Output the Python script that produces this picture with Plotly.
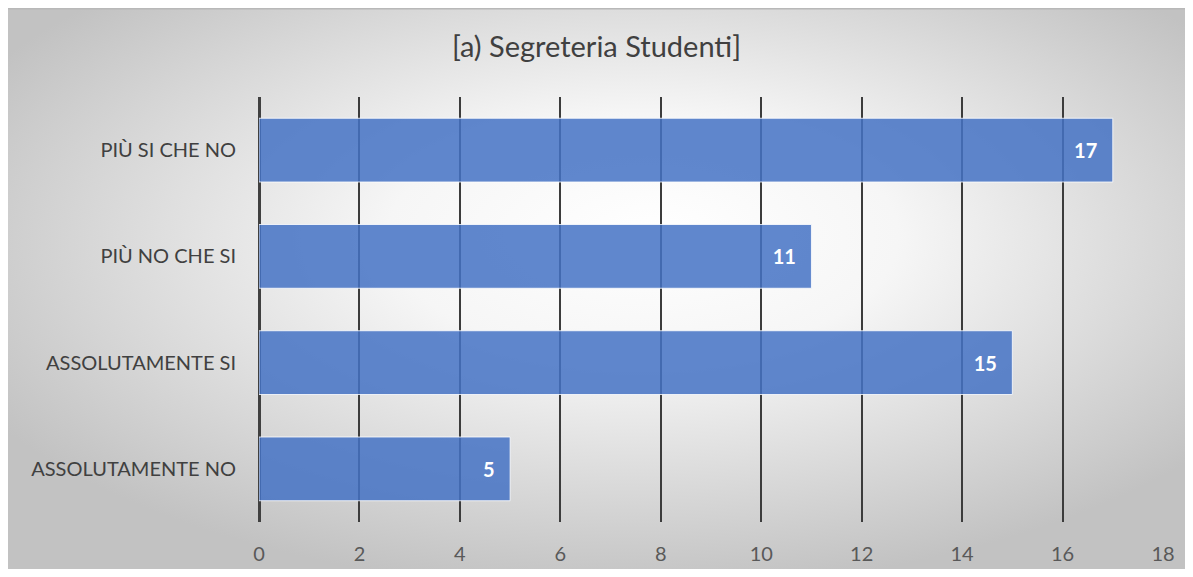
import base64
import plotly.graph_objects as go

categories = ["ASSOLUTAMENTE NO", "ASSOLUTAMENTE SI", "PIÙ NO CHE SI", "PIÙ SI CHE NO"]
values = [5, 15, 11, 17]
x_ticks = [0, 2, 4, 6, 8, 10, 12, 14, 16, 18]
title_text = "[a) Segreteria Studenti]"

# page body adds an 8px margin; figure occupies page pixels 8..1185 x 8..569
W, H = 1177, 561
ml, mr, mt, mb = 251, 22, 89, 47

svg = f'''<svg xmlns="http://www.w3.org/2000/svg" width="{W}" height="{H}" viewBox="0 0 {W} {H}" preserveAspectRatio="none">
<defs><radialGradient id="g" cx="52%" cy="42%" r="62%" fx="55%" fy="40%">
<stop offset="0" stop-color="#ffffff"/>
<stop offset="0.35" stop-color="#f6f6f6"/>
<stop offset="1" stop-color="#c2c2c2"/>
</radialGradient></defs>
<rect x="0" y="0" width="{W}" height="{H}" fill="url(#g)"/>
<rect x="0" y="0" width="{W}" height="1.5" fill="#b8b8b8"/>
</svg>'''
src = "data:image/svg+xml;base64," + base64.b64encode(svg.encode()).decode()

font_family = "Lato, Open Sans, sans-serif"

fig = go.Figure(go.Bar(
    y=categories, x=values, orientation="h",
    marker=dict(color="rgba(68,114,196,0.85)", line=dict(color="rgba(255,255,255,0.8)", width=1)),
    width=0.6,
    text=[str(v) + "\u2002\u2009" for v in values], textposition="inside", insidetextanchor="end",
    textfont=dict(color="white", size=20, family=font_family, weight="bold"),
    cliponaxis=False,
))

fig.update_layout(
    width=W, height=H, autosize=False,
    margin=dict(l=ml, r=mr, t=mt, b=mb, pad=0, autoexpand=False),
    paper_bgcolor="white", plot_bgcolor="rgba(0,0,0,0)",
    title=dict(text=title_text, x=0.5, xref="container", xanchor="center",
               y=1 - 39 / H, yref="container", yanchor="middle",
               font=dict(size=29, color="#404040", family=font_family)),
    font=dict(family=font_family, color="#595959"),
    showlegend=False,
    images=[dict(source=src, xref="paper", yref="paper",
                 x=-ml / (W - ml - mr), y=1 + mt / (H - mt - mb),
                 sizex=W / (W - ml - mr), sizey=H / (H - mt - mb),
                 xanchor="left", yanchor="top", sizing="stretch", layer="below")],
)
fig.update_xaxes(range=[0, 18], tickvals=x_ticks, showgrid=True, gridcolor="#3c3c3c", gridwidth=1.5,
                 zeroline=True, zerolinecolor="#404040", zerolinewidth=3, automargin=False,
                 tickfont=dict(size=20, color="#595959"), ticks="outside", ticklen=14,
                 tickcolor="rgba(0,0,0,0)", showline=False, fixedrange=True)
fig.update_yaxes(categoryorder="array", categoryarray=categories, showgrid=False, automargin=False,
                 tickfont=dict(size=20, color="#404040"), ticks="outside", ticklen=18,
                 tickcolor="rgba(0,0,0,0)", showline=False, fixedrange=True)

fig.write_html("out.html", config={"displayModeBar": False, "responsive": False})
